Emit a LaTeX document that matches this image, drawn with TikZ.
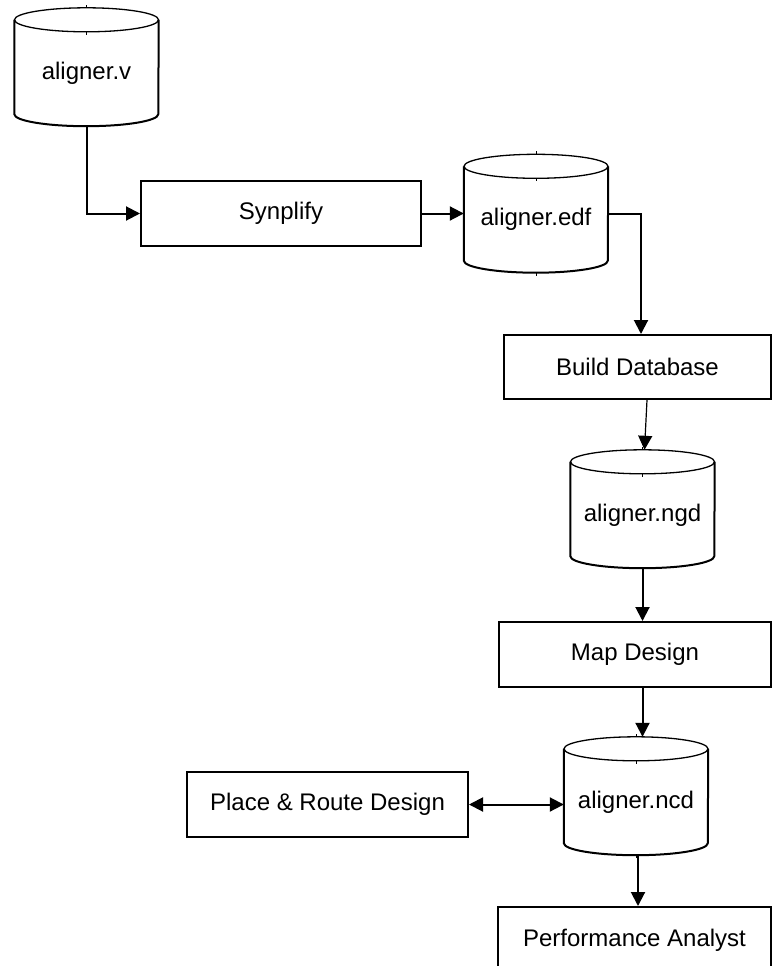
\documentclass[tikz,border=0pt]{standalone}
\usepackage{fontspec}
\setmainfont{Liberation Sans}
\usetikzlibrary{arrows.meta}

\newcommand\labelfont{\fontsize{24}{28}\selectfont}

\tikzset{
  box/.style={draw, line width=2pt, rectangle, inner sep=0pt, font=\labelfont},
  dbnode/.style={rectangle, inner sep=0pt, minimum width=144pt, minimum height=118pt},
  cylside/.style={line width=2pt, line join=round},
  cylcap/.style={line width=1.3pt},
  cyltick/.style={line width=1pt},
  flow/.style={line width=2pt, -{Triangle[length=14pt,width=14pt]}},
  thinflow/.style={line width=1.2pt, -{Triangle[length=14pt,width=14pt]}},
}

% database cylinder: name, centre x, centre y, label
\newcommand\dbcyl[4]{%
  \node[dbnode, label={[font=\labelfont, yshift=-6pt]center:#4}] (#1) at (#2,#3) {};
  \draw[cylside] ([yshift=-12pt]#1.north west) -- ([yshift=12pt]#1.south west)
    arc[start angle=180, end angle=360, x radius=72pt, y radius=12pt]
    -- ([yshift=-12pt]#1.north east);
  \draw[cylcap] ([yshift=-12pt]#1.north) ellipse[x radius=72pt, y radius=12pt];
  \draw[cyltick] (#1.north) -- ([yshift=3pt]#1.north);
  \draw[cyltick] ([yshift=-24pt]#1.north) -- ([yshift=-27pt]#1.north);
  \draw[cyltick] (#1.south) -- ([yshift=-3pt]#1.south);
}

\begin{document}
\begin{tikzpicture}[x=1pt, y=-1pt]
  \useasboundingbox (0,0) rectangle (773,966);
  \clip (0,0) rectangle (773,966);

  % data files
  \dbcyl{v}{86.5}{67}{aligner.v}
  \dbcyl{edf}{536}{213.5}{aligner.edf}
  \dbcyl{ngd}{642.5}{509}{aligner.ngd}
  \dbcyl{ncd}{636}{796}{aligner.ncd}

  % tool steps
  \node[box, minimum width=280pt, minimum height=65pt] (syn)  at (281,213.5) {Synplify};
  \node[box, minimum width=267pt, minimum height=64pt] (bdb)  at (637.5,367) {Build Database};
  \node[box, minimum width=272pt, minimum height=65pt] (map)  at (635,654.5) {Map Design};
  \node[box, minimum width=281pt, minimum height=65pt] (pr)   at (327.5,804.5) {Place \& Route Design};
  \node[box, minimum width=273pt, minimum height=66pt] (perf) at (634.5,940) {Performance Analyst};

  % flow
  \draw[flow] (v.south) |- (syn.west);
  \draw[flow] (syn.east) -- (edf.west);
  \draw[flow] (edf.east) -| ([xshift=3.5pt]bdb.north);
  \draw[thinflow] ([xshift=9.5pt]bdb.south) -- ([xshift=2pt]ngd.north);
  \draw[flow] (ngd.south) -- (ngd.south |- map.north);
  \draw[flow] (ngd.south |- map.south) -- (ngd.south |- ncd.north);
  \draw[line width=2pt, {Triangle[length=14pt,width=14pt]}-{Triangle[length=14pt,width=14pt]}]
    (pr.east) -- (pr.east -| ncd.west);
  \draw[flow] ([xshift=2pt]ncd.south) -- ([xshift=2pt]ncd.south |- perf.north);
\end{tikzpicture}
\end{document}
